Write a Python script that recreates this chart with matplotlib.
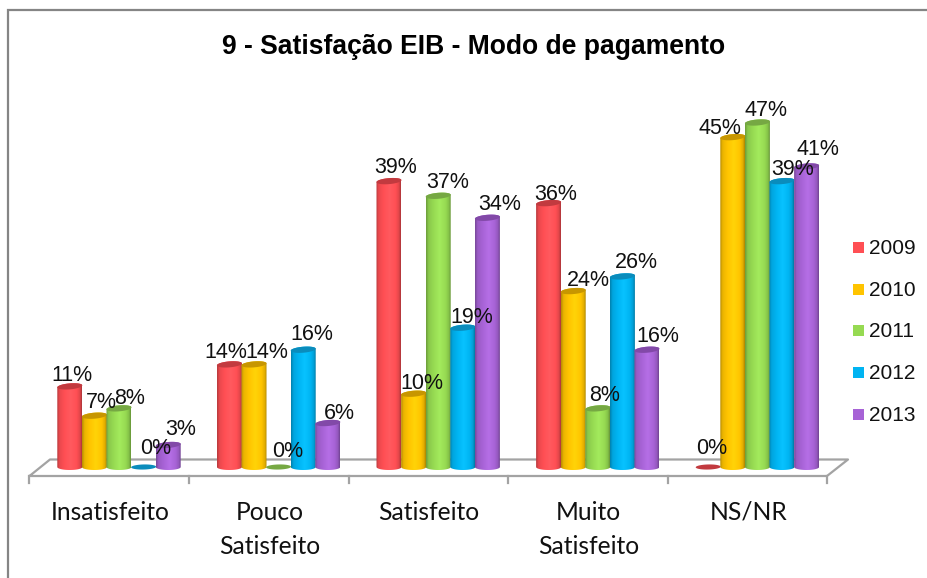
import numpy as np
import matplotlib
matplotlib.use("Agg")
import matplotlib.pyplot as plt
from matplotlib.colors import to_rgb, LinearSegmentedColormap
from matplotlib.patches import Polygon, Rectangle
from matplotlib.lines import Line2D

TITLE = "9 - Satisfação EIB - Modo de pagamento"
categories = ["Insatisfeito", "Pouco\nSatisfeito", "Satisfeito", "Muito\nSatisfeito", "NS/NR"]
years = ["2009", "2010", "2011", "2012", "2013"]
v2009 = [11, 14, 39, 36, 0]
v2010 = [7, 14, 10, 24, 45]
v2011 = [8, 0, 37, 8, 47]
v2012 = [0, 16, 19, 26, 39]
v2013 = [3, 6, 34, 16, 41]
series = [v2009, v2010, v2011, v2012, v2013]

colors = ["#FF4F54", "#FFC400", "#96DA52", "#00B4F2", "#A763D6"]
top_colors = ["#C23A3F", "#C79600", "#76A843", "#0A8CBC", "#8249A8"]

# label offsets from bar top, in pixels (dx right, dy up), per series, per category
label_dx = [[2, -4, 7, 7, 3], [7, 13, 8, 15, -13], [11, 9, 9, 7, 9], [12, 9, 9, 14, 11], [12, 12, 12, 11, 11]]
label_dy = [[12, 13, 15, 10, 20], [15, 13, 12, 12, 10], [11, 17, 15, 14, 13], [20, 17, 12, 15, 13], [17, 11, 15, 15, 18]]
LABEL_DY_SHIFT = -1.5

W, H = 927, 578
PX_CAT = 159.6          # px per category
PX_PCT = 7.33           # px per percent
X0_PX = 109.8           # px of category 0
Y0_PX = 467.0           # px of 0 %
BAR_PX = 24.6
SHIFT = 9.2 / PX_CAT    # perspective shift of the bars
BAR_W = BAR_PX / PX_CAT
RX = 12.5 / PX_CAT
RY = 3.0 / PX_PCT
TILT = 1.0 / PX_PCT

GREY = "#A3A3A3"
FRAME = "#858585"

fig = plt.figure(figsize=(W / 100, H / 100), dpi=100, facecolor="white")

# pixel-space layer for chart furniture
bg = fig.add_axes([0, 0, 1, 1], zorder=0)
bg.set_xlim(0, W)
bg.set_ylim(H, 0)
bg.axis("off")

# data layer
ax = fig.add_axes([0, 0, 1, 1], zorder=1)
ax.patch.set_alpha(0)
ax.axis("off")


def shade_cmap(base):
    b = np.array(to_rgb(base))
    stops = [(0.0, b * 0.72), (0.10, b * 0.92), (0.30, b), (0.55, np.minimum(b * 1.04 + 0.03, 1)),
             (0.80, b), (0.93, b * 0.88), (1.0, b * 0.68)]
    return LinearSegmentedColormap.from_list("c", [(p, tuple(c)) for p, c in stops])


grad = np.linspace(0, 1, 64).reshape(1, -1)
t = np.linspace(0, np.pi, 40)

for j, (vals, col, tcol) in enumerate(zip(series, colors, top_colors)):
    for i, v in enumerate(vals):
        xc = i + SHIFT + (j - 2) * BAR_W
        if v == 0:
            ex = xc + RX * np.cos(2 * t)
            ey = 0.85 * RY * np.sin(2 * t) + 0.3 * TILT * np.cos(2 * t)
            ax.add_patch(Polygon(np.c_[ex, ey], closed=True, fc=tcol, ec="none", zorder=3 + j))
            continue
        # body outline: lower half of base ellipse + upper half of the top ellipse
        bx = xc + RX * np.cos(t + np.pi)
        by = 0 + RY * np.sin(t + np.pi)
        tx = xc + RX * np.cos(t)
        ty = v + RY * np.sin(t) + TILT * np.cos(t)
        body = Polygon(np.r_[np.c_[bx, by], np.c_[tx, ty]], closed=True, fc="none", ec="none",
                       transform=ax.transData)
        ax.add_patch(body)
        im = ax.imshow(grad, cmap=shade_cmap(col), aspect="auto", interpolation="bilinear",
                       extent=(xc - RX, xc + RX, -RY - 0.2, v + RY + 0.4), zorder=3 + j)
        im.set_clip_path(body)
        # top cap
        a = np.linspace(0, 2 * np.pi, 60)
        ax.add_patch(Polygon(np.c_[xc + RX * np.cos(a), v + RY * np.sin(a) + TILT * np.cos(a)],
                             closed=True, fc=tcol, ec="none", zorder=3 + j))

ax.set_xlim(-X0_PX / PX_CAT, (W - X0_PX) / PX_CAT)
ax.set_ylim((Y0_PX - H) / PX_PCT, Y0_PX / PX_PCT)

# data labels
for j, vals in enumerate(series):
    for i, v in enumerate(vals):
        xc = i + SHIFT + (j - 2) * BAR_W
        ax.annotate(f"{v}%", xy=(xc, v), xytext=(label_dx[j][i], label_dy[j][i] + LABEL_DY_SHIFT),
                    textcoords="offset pixels", ha="center", va="center",
                    family="Liberation Sans", fontsize=15.5, color="#111111", zorder=20)

# category labels
for i, c in enumerate(categories):
    ax.text(i, (Y0_PX - 501) / PX_PCT, c, ha="center", va="top", family="Lato",
            fontsize=17.7, color="#111111", linespacing=1.585, zorder=20)

# frame
bg.add_line(Line2D([8, 8, W], [H, 10, 10], color=FRAME, lw=1.6, solid_joinstyle="miter"))

# floor
lw = 1.6
bg.add_line(Line2D([29.5, 50, 848, 827, 29.5], [476, 459.5, 459.5, 476, 476], color=GREY, lw=lw))
for k in range(6):
    xp = 29.5 + k * PX_CAT
    bg.add_line(Line2D([xp, xp], [476, 483], color=GREY, lw=lw))

# title
bg.text(473.5, 47, TITLE, ha="center", va="center", family="Liberation Sans",
        fontweight="bold", fontsize=19.1, color="black")

# legend
for j, (yr, col) in enumerate(zip(years, colors)):
    yp = 247.5 + j * 41.7
    bg.add_patch(Rectangle((853, yp - 5.5), 11, 11, fc=col, ec="none"))
    bg.text(869, yp + 1, yr, ha="left", va="center", family="Liberation Sans",
            fontsize=15, color="#111111")

fig.savefig("out.png", dpi=100, facecolor="white")
